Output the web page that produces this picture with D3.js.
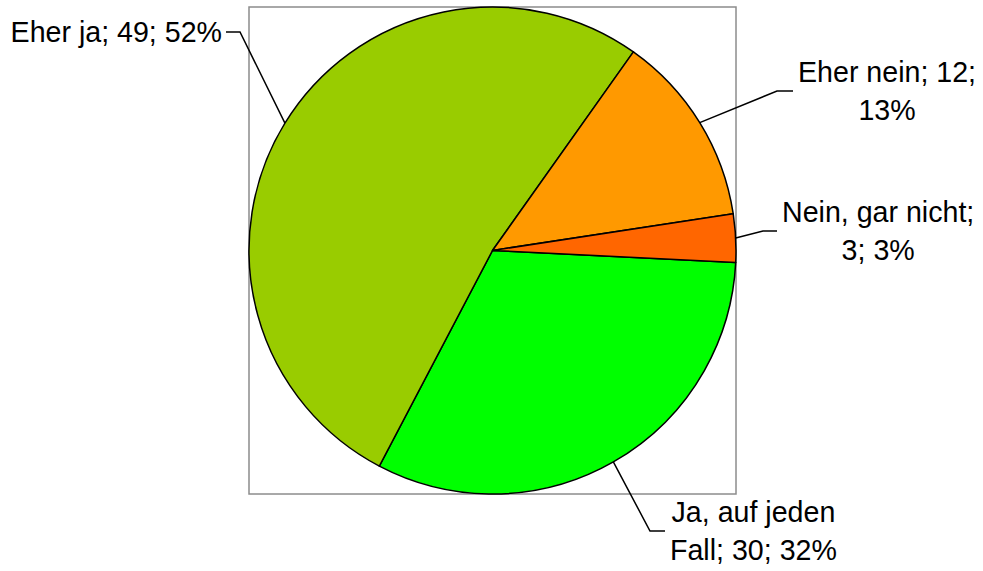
<!DOCTYPE html>
<html>
<head>
<meta charset="utf-8">
<script src="https://cdn.jsdelivr.net/npm/d3@7"></script>
<style>
	html, body { margin: 0; padding: 0; background: #fff; }
	svg text { font-family: "Liberation Sans", Arial, sans-serif; font-size: 28.6px; fill: #000; }
</style>
</head>
<body>
<div id="chart"></div>
<script>
// data, in the order the slices run clockwise
var categories = ["Ja, auf jeden Fall", "Eher ja", "Eher nein", "Nein, gar nicht"];
var counts = [30, 49, 12, 3];
var colors = ["#00ff00", "#99cc00", "#ff9900", "#ff6600"];

// label placement: elbow and end of the leader line, relative to pie centre
var labelElbows = [[157.5, 280.5], [-252.5, -218.5], [284.5, -159.5], [270.5, -19.5]];
var labelEnds = [[172.5, 280.5], [-266.5, -218.5], [300.5, -159.5], [284.5, -19.5]];
var labelWrap = [200, 300, 200, 200];

var width = 983,
	height = 571,
	cx = 492.5,
	cy = 250.5,
	radius = 243.5,
	lineHeight = 38,
	startDeg = 92.8;

var svg = d3.select("#chart")
	.append("svg")
	.attr("width", width)
	.attr("height", height);

// plot area frame
svg.append("rect")
	.attr("x", cx - radius)
	.attr("y", cy - radius)
	.attr("width", radius * 2)
	.attr("height", radius * 2)
	.attr("fill", "none")
	.attr("stroke", "#8c8c8c")
	.attr("stroke-width", 1.5);

var total = d3.sum(counts);
var data = categories.map(function(c, i) {
	return { name: c, value: counts[i], color: colors[i], index: i };
});

var pie = d3.pie()
	.sort(null)
	.value(function(d) { return d.value; })
	.startAngle(startDeg * Math.PI / 180)
	.endAngle(startDeg * Math.PI / 180 + 2 * Math.PI);

var arc = d3.arc()
	.innerRadius(0)
	.outerRadius(radius);

var g = svg.append("g")
	.attr("transform", "translate(" + cx + "," + cy + ")");

var arcs = pie(data);

g.selectAll("path.slice")
	.data(arcs)
	.enter()
	.append("path")
	.attr("class", "slice")
	.attr("d", arc)
	.attr("fill", function(d) { return d.data.color; })
	.attr("stroke", "#000")
	.attr("stroke-width", 1.5)
	.attr("stroke-linejoin", "round");

// leader lines, starting on the rim at the middle of each slice
g.selectAll("polyline.leader")
	.data(arcs)
	.enter()
	.append("polyline")
	.attr("class", "leader")
	.attr("fill", "none")
	.attr("stroke", "#000")
	.attr("stroke-width", 1.5)
	.attr("points", function(d) {
		var a = (d.startAngle + d.endAngle) / 2;
		var p0 = [radius * Math.sin(a), -radius * Math.cos(a)];
		var i = d.data.index;
		return [p0, labelElbows[i], labelEnds[i]].map(function(p) { return p.join(","); }).join(" ");
	});

// labels: "name; value; pct%", wrapped and centred
arcs.forEach(function(d) {
	var i = d.data.index;
	var str = d.data.name + "; " + d.data.value + "; " + Math.round(d.data.value / total * 100) + "%";
	var words = str.split(" ");

	var measure = g.append("text");
	var lines = [];
	var cur = "";
	words.forEach(function(w) {
		var test = cur ? cur + " " + w : w;
		measure.text(test);
		if (cur && measure.node().getComputedTextLength() > labelWrap[i]) {
			lines.push(cur);
			cur = w;
		} else {
			cur = test;
		}
	});
	lines.push(cur);

	var maxW = d3.max(lines, function(l) {
		measure.text(l);
		return measure.node().getComputedTextLength();
	});
	measure.remove();

	var end = labelEnds[i];
	var rightSide = end[0] > labelElbows[i][0];
	var centreX = rightSide ? end[0] + 5 + maxW / 2 : end[0] - 4 - maxW / 2;
	var firstBase = end[1] - (lines.length - 1) * lineHeight / 2 + 10;

	var t = g.append("text")
		.attr("text-anchor", "middle");
	lines.forEach(function(l, k) {
		t.append("tspan")
			.attr("x", centreX)
			.attr("y", firstBase + k * lineHeight)
			.text(l);
	});
});
</script>
</body>
</html>
